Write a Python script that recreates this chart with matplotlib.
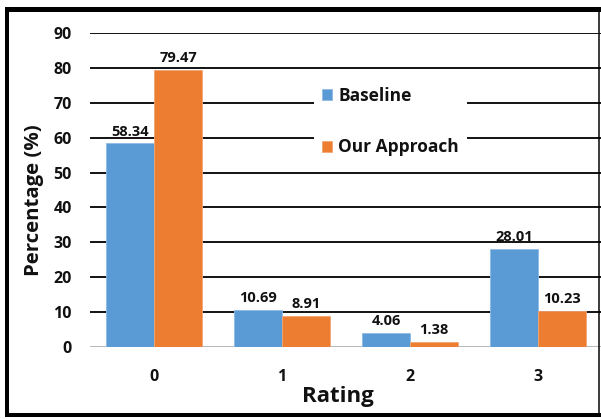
import numpy as np
import matplotlib
matplotlib.use("Agg")
import matplotlib.pyplot as plt
from matplotlib.lines import Line2D

# data
ratings = ["0", "1", "2", "3"]
baseline = [58.34, 10.69, 4.06, 28.01]
our_approach = [79.47, 8.91, 1.38, 10.23]

BLUE = "#5B9BD5"
ORANGE = "#ED7D31"
INK = "#111111"

plt.rcParams["font.family"] = ["Open Sans", "DejaVu Sans"]
plt.rcParams["font.weight"] = "bold"

W, H = 601, 419
fig = plt.figure(figsize=(W / 100, H / 100), dpi=100, facecolor="white")
ax = fig.add_axes([90 / W, 1 - 347 / H, 512 / W, 314 / H])

x = np.arange(len(ratings))
bw = 0.375
b1 = ax.bar(x - bw / 2, baseline, bw, color=BLUE, edgecolor="#8fbbe6", linewidth=0.6,
            label="Baseline", zorder=3)
b2 = ax.bar(x + bw / 2, our_approach, bw, color=ORANGE, edgecolor="#f3a574", linewidth=0.6,
            label="Our Approach", zorder=3)

for bars, vals in ((b1, baseline), (b2, our_approach)):
    for bar, v in zip(bars, vals):
        ax.annotate(f"{v:.2f}", (bar.get_x() + bar.get_width() / 2, v),
                    xytext=(0, 3.5), textcoords="offset points",
                    ha="center", va="bottom", fontsize=10.5, fontweight="bold",
                    color=INK)

ax.set_xlim(-0.5, 3.5)
ax.set_ylim(0, 90)
ax.set_yticks(range(0, 91, 10))
ax.set_xticks(x)
ax.set_xticklabels(ratings)
ax.tick_params(axis="both", length=0, labelsize=11.5, colors=INK)
ax.tick_params(axis="y", pad=13)
ax.tick_params(axis="x", pad=16)
for lbl in ax.get_xticklabels() + ax.get_yticklabels():
    lbl.set_fontweight("bold")

for s in ax.spines.values():
    s.set_visible(False)
ax.yaxis.grid(True, color="black", linewidth=1.3, zorder=0)
ax.set_axisbelow(True)
ax.axhline(0, color="#d9d9d9", linewidth=1.2, zorder=2)

ax.set_ylabel("Percentage (%)", fontsize=14.7, fontweight="bold", color=INK)
ax.yaxis.set_label_coords(-0.109, 0.468)
ax.set_xlabel("Rating", fontsize=16, fontweight="bold", color=INK)
ax.xaxis.set_label_coords(0.484, -0.159)
ax.xaxis.label.set_va("center")
ax.yaxis.label.set_va("center")

leg = ax.legend(loc="upper left", bbox_to_anchor=(0.4375, 0.853), borderaxespad=0,
                fontsize=12.5, frameon=True, fancybox=False, edgecolor="white",
                framealpha=1, handlelength=0.6, handleheight=0.6, handletextpad=0.35,
                labelspacing=1.93, borderpad=0.45)
leg.get_frame().set_linewidth(0)
for t in leg.get_texts():
    t.set_fontweight("bold")
    t.set_color(INK)

# outer frame like the exported chart border
def px_line(x0, y0, x1, y1, lw):
    fig.add_artist(Line2D([x0 / W, x1 / W], [1 - y0 / H, 1 - y1 / H],
                          transform=fig.transFigure, color="black",
                          linewidth=lw * 0.72, solid_capstyle="projecting"))

px_line(7, 9, 7, 415, 4)
px_line(7, 9.5, 599, 9.5, 5)
px_line(7, 415, 599, 415, 4)
px_line(598.5, 9, 598.5, 415, 1.5)

fig.savefig("out.png", dpi=100, facecolor="white")
